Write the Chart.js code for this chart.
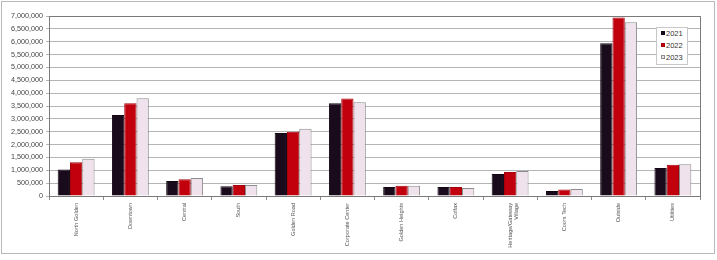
<!DOCTYPE html>
<html>
<head>
<meta charset="utf-8">
<script src="https://cdn.jsdelivr.net/npm/chart.js@4"></script>
<style>
  html, body { margin: 0; padding: 0; background: #fff; }
  #wrap { position: relative; width: 717px; height: 260px; }
  #frame { position: absolute; left: 1px; top: 1px; width: 712px; height: 251px; border: 1px solid #b8b8b8; pointer-events: none; }
  #legend { position: absolute; left: 656px; top: 27px; width: 30px; height: 36px; background: #fff; border: 1px solid #c8c8c8;
            font-family: 'Liberation Sans', Arial, sans-serif; font-size: 7.5px; color: #333; }
  #legend div { position: absolute; left: 4px; height: 9px; line-height: 9px; white-space: nowrap; }
  #legend span { display: inline-block; width: 4px; height: 4px; margin-right: 1px; vertical-align: 1px; box-sizing: border-box; }
</style>
</head>
<body>
<div id="wrap">
  <canvas id="c" width="717" height="260"></canvas>
  <div id="frame"></div>
  <div id="legend"></div>
</div>
<script>
const categories = ["North Golden", "Downtown", "Central", "South", "Golden Road", "Corporate Center",
  "Golden Heights", "Colfax", ["Heritage/Gateway", "Village"], "Coors Tech", "Outside", "Utilities"];
const seriesNames = ["2021", "2022", "2023"];
const values2021 = [1030000, 3150000, 580000, 380000, 2450000, 3610000, 350000, 350000, 860000, 190000, 5940000, 1090000];
const values2022 = [1310000, 3610000, 650000, 430000, 2500000, 3790000, 400000, 350000, 930000, 250000, 6940000, 1220000];
const values2023 = [1450000, 3800000, 700000, 430000, 2620000, 3650000, 400000, 310000, 970000, 270000, 6760000, 1230000];
const yMin = 0, yMax = 7000000, yStep = 500000;

const fills = ['#1a0b1c', '#c2000d', '#efe2ec'];
const borders = ['#120612', '#a5000b', '#8c8c8c'];
const seriesValues = [values2021, values2022, values2023];

const plotBorder = {
  id: 'plotBorder',
  afterDatasetsDraw(chart) {
    const a = chart.chartArea, ctx = chart.ctx;
    ctx.save();
    ctx.strokeStyle = '#7a7a7a';
    ctx.lineWidth = 1;
    ctx.strokeRect(Math.round(a.left) + 0.5, Math.round(a.top) + 0.5, Math.round(a.right - a.left), Math.round(a.bottom - a.top));
    ctx.restore();
  }
};

new Chart(document.getElementById('c'), {
  type: 'bar',
  data: {
    labels: categories,
    datasets: seriesNames.map((n, i) => ({
      label: n,
      data: seriesValues[i],
      backgroundColor: fills[i],
      borderColor: borders[i],
      borderWidth: 1,
      categoryPercentage: 0.68,
      barPercentage: 1.0
    }))
  },
  options: {
    responsive: false,
    animation: false,
    layout: { padding: { left: 0, top: 16, right: 17, bottom: 0 } },
    plugins: { legend: { display: false }, tooltip: { enabled: false } },
    scales: {
      x: {
        afterFit(s) { s.height = 64; },
        grid: { display: true, drawOnChartArea: false, offset: true, color: '#8a8a8a', tickLength: 4 },
        border: { display: true, color: '#7a7a7a' },
        ticks: {
          autoSkip: false, maxRotation: 90, minRotation: 90, padding: 3,
          color: '#555', font: { family: 'Liberation Sans, Arial, sans-serif', size: 5.6 }
        }
      },
      y: {
        min: yMin, max: yMax,
        afterFit(s) { s.width = 49; },
        grid: { color: '#b4b4b4', tickLength: 3 },
        border: { display: true, color: '#7a7a7a' },
        ticks: {
          stepSize: yStep, padding: 3, color: '#444',
          font: { family: 'Liberation Sans, Arial, sans-serif', size: 7.2 },
          callback: v => v.toLocaleString('en-US')
        }
      }
    }
  },
  plugins: [plotBorder]
});

const lg = document.getElementById('legend');
seriesNames.forEach((n, i) => {
  const d = document.createElement('div');
  d.style.top = (1 + i * 12) + 'px';
  d.innerHTML = '<span style="background:' + fills[i] + ';border:1px solid ' + borders[i] + '"></span>' + n;
  lg.appendChild(d);
});
</script>
</body>
</html>
